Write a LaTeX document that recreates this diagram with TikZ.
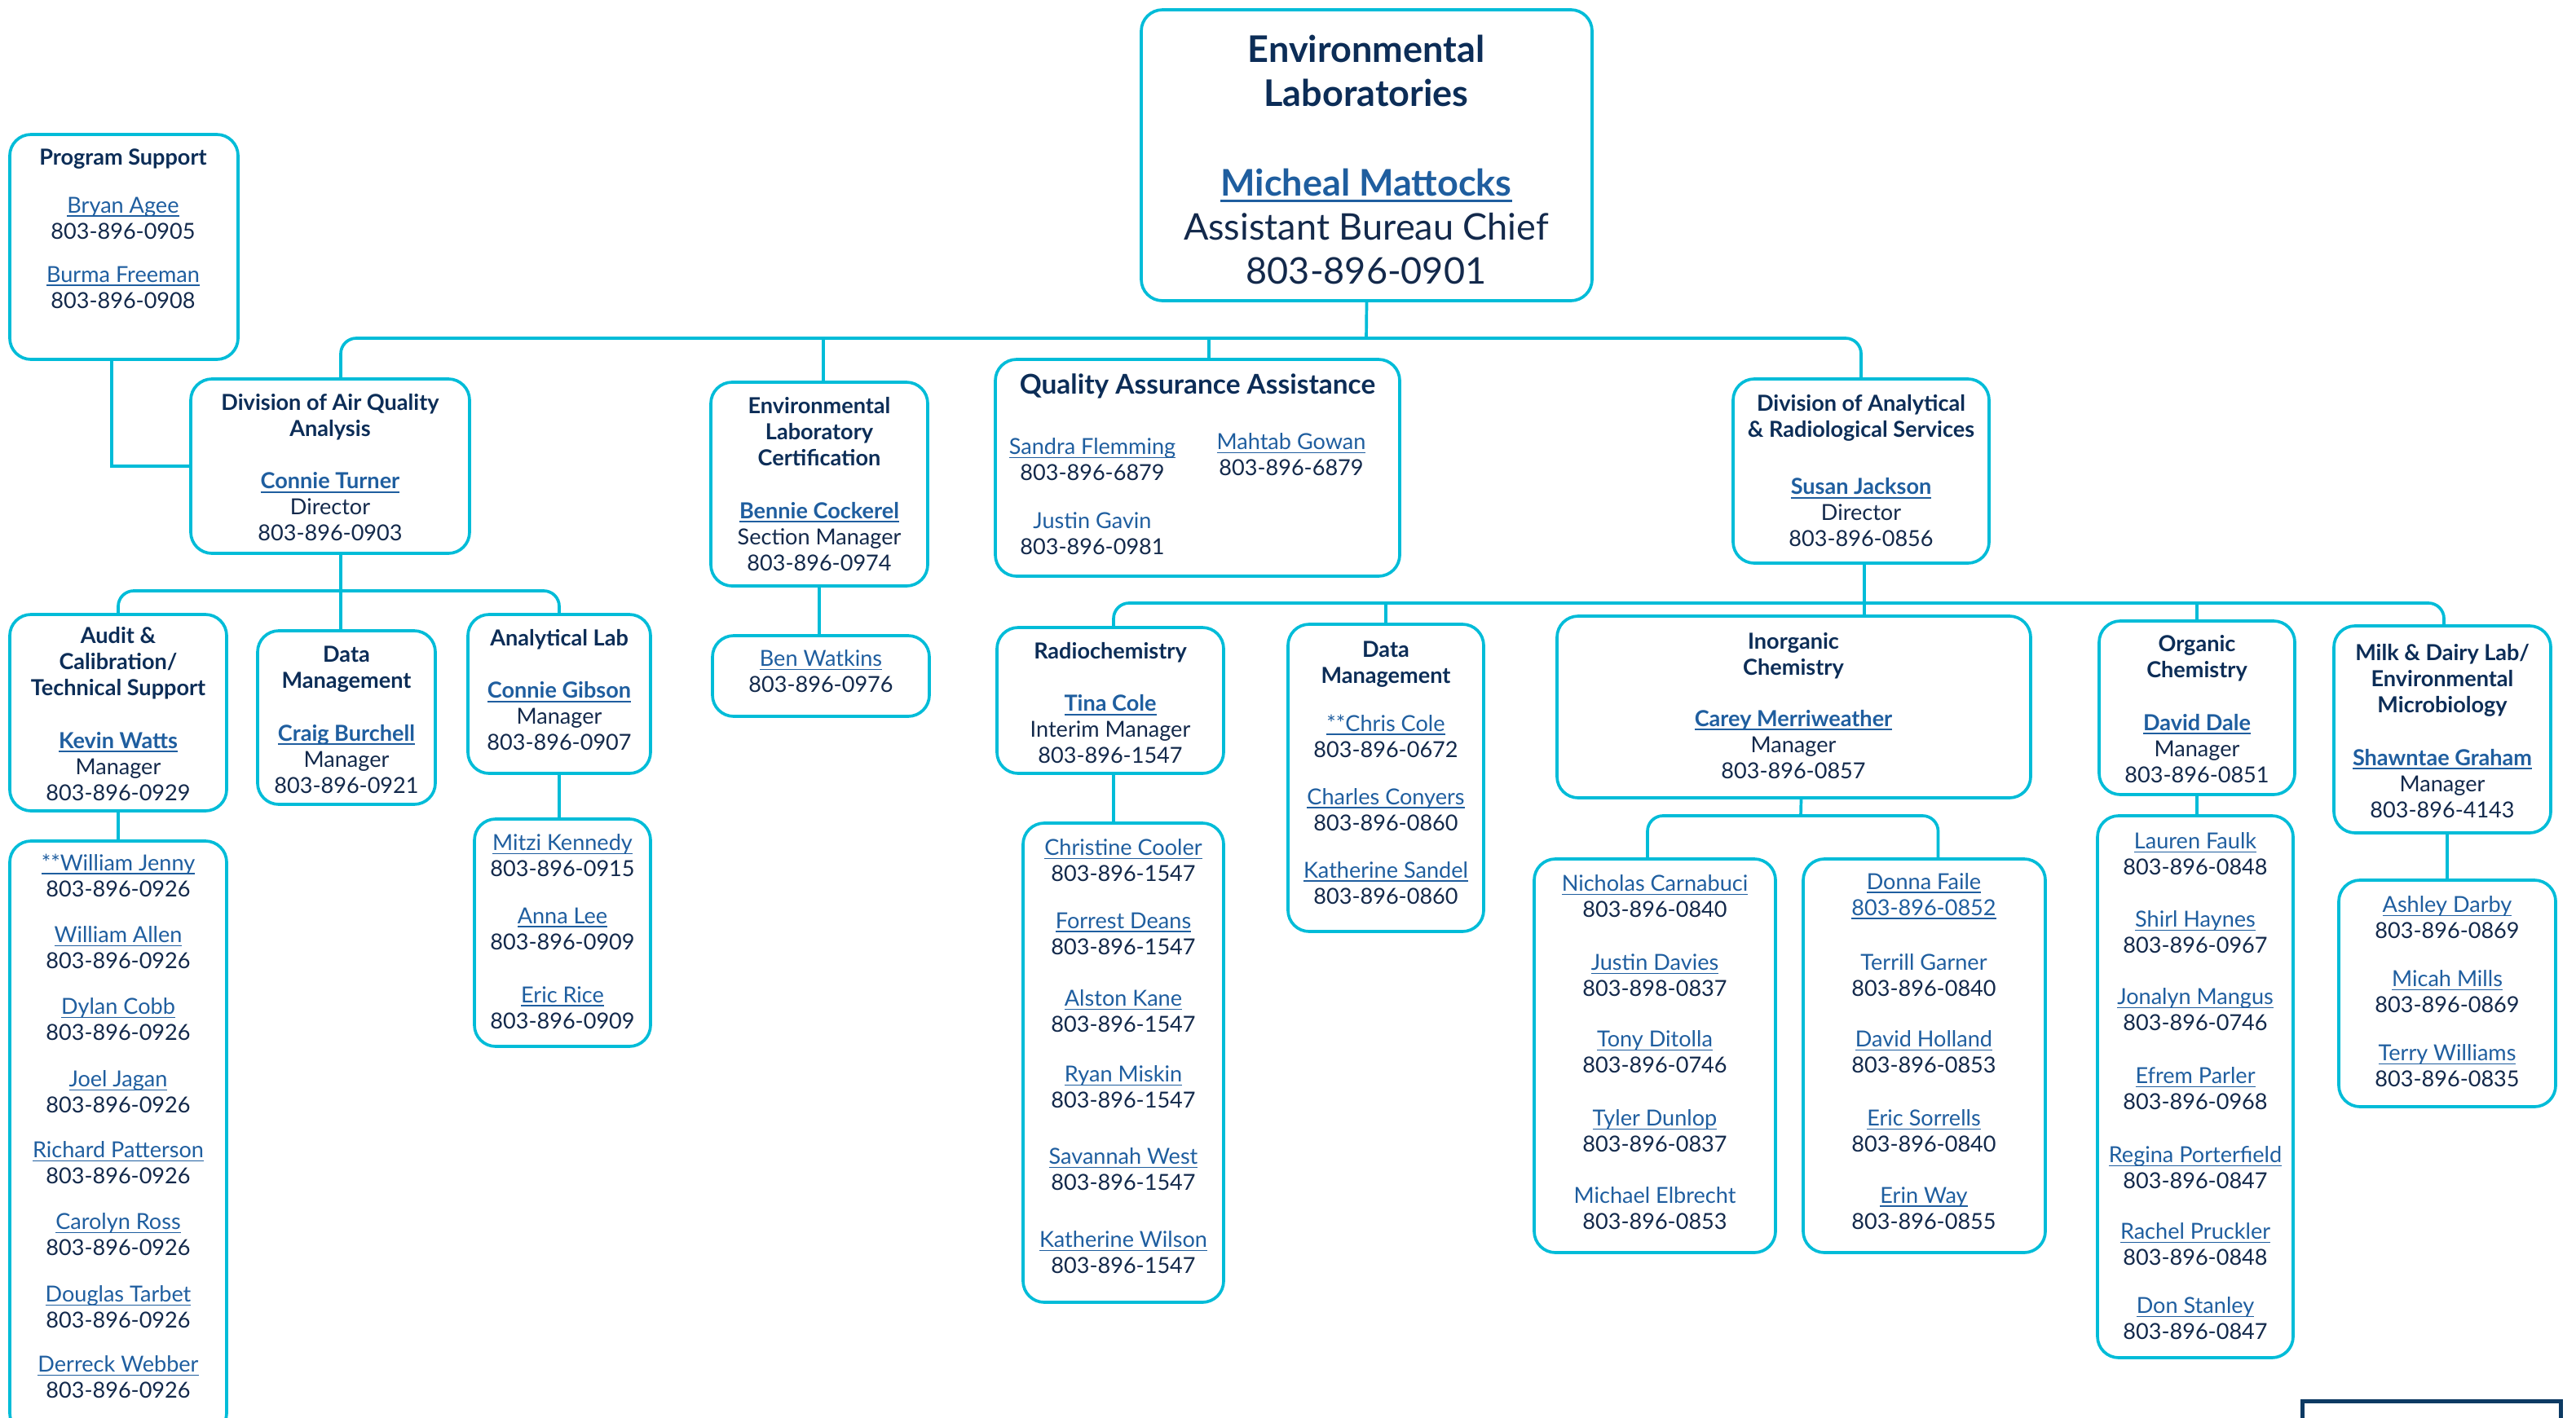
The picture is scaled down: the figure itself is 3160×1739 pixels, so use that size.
\documentclass[tikz,border=0pt]{standalone}
\usepackage{fontspec}
\setmainfont{Lato}
\usetikzlibrary{fit}
\definecolor{linecyan}{HTML}{00BCD8}
\definecolor{headnavy}{HTML}{0C2D57}
\definecolor{linkblue}{HTML}{1F5E9F}
\definecolor{telnavy}{HTML}{13294B}
\definecolor{framenavy}{HTML}{0D3A63}
\newcommand{\uname}[1]{\setbox0\hbox{#1}\rlap{\rule[-0.17em]{\wd0}{0.07em}}\box0}
\newcommand{\hd}[1]{{\bfseries\color{headnavy}#1}}
\newcommand{\nm}[1]{{\color{linkblue}\uname{#1}}}
\newcommand{\bnm}[1]{{\bfseries\color{linkblue}\uname{#1}}}
\newcommand{\pl}[1]{{\color{linkblue}#1}}
\begin{document}
\begin{tikzpicture}[x=0.01cm, y=-0.01cm,
  box/.style={draw=linecyan, line width=1.05pt, rounded corners=2.6mm, inner sep=0pt},
  link/.style={draw=linecyan, line width=1.05pt},
  bus/.style={rounded corners=1.9mm},
  txt/.style={align=center, inner sep=0pt, text=telnavy, font=\fontsize{7.7}{9.1}\selectfont},
  big/.style={align=center, inner sep=0pt, text=telnavy, font=\fontsize{12.8}{15.4}\selectfont}]
\useasboundingbox (0,0) rectangle (3160,1739);
\clip (0,0) rectangle (3160,1739);

% boxes
\node[box, fit={(1400,12) (1953,369)}] (top) {};
\node[box, fit={(12,165) (292,441)}] (ps) {};
\node[box, fit={(234,465) (576,679)}] (aq) {};
\node[box, fit={(872,469) (1138,719)}] (elc) {};
\node[box, fit={(874,780) (1140,879)}] (bw) {};
\node[box, fit={(1221,441) (1717,707)}] (qa) {};
\node[box, fit={(2126,465) (2440,691)}] (anr) {};
\node[box, fit={(12,754) (278,995)}] (audit) {};
\node[box, fit={(12,1032) (278,1760)}] (auditstaff) {};
\node[box, fit={(316,774) (534,987)}] (dm1) {};
\node[box, fit={(574,754) (798,949)}] (alab) {};
\node[box, fit={(582,1005) (798,1284)}] (alabstaff) {};
\node[box, fit={(1223,770) (1501,949)}] (radio) {};
\node[box, fit={(1255,1010) (1501,1598)}] (radiostaff) {};
\node[box, fit={(1580,766) (1820,1143)}] (dm2) {};
\node[box, fit={(1910,756) (2491,979)}] (inorg) {};
\node[box, fit={(1882,1054) (2178,1537)}] (inleft) {};
\node[box, fit={(2212,1054) (2509,1537)}] (inright) {};
\node[box, fit={(2575,762) (2815,975)}] (organic) {};
\node[box, fit={(2573,1001) (2813,1666)}] (orgstaff) {};
\node[box, fit={(2863,768) (3129,1022)}] (milk) {};
\node[box, fit={(2869,1080) (3135,1358)}] (milkstaff) {};
\draw[draw=framenavy, line width=1.42pt] (2824,1719) rectangle (3141,1800);

% connectors
\coordinate (topbus) at (1676,415);
\coordinate (aqbus) at (418,725);
\coordinate (anrbus) at (2287,740);
\coordinate (inbus) at (2209,1001);
\draw[link] (top.south) -- (topbus);
\draw[link, bus] ([xshift=1.3mm]aq.north) |- (topbus) -| (anr.north);
\draw[link] ([xshift=0.5mm]elc.north) |- (topbus);
\draw[link] ([xshift=1.4mm]qa.north) |- (topbus);
\draw[link] ([xshift=-1.5mm]ps.south) |- (aq.west);
\draw[link] ([xshift=1.3mm]aq.south) -- (aqbus) -- (aqbus |- dm1.north);
\draw[link, bus] (audit.north) |- (aqbus) -| (alab.north);
\draw[link] (audit.south) -- (auditstaff.north);
\draw[link] (alab.south) -- (alab.south |- alabstaff.north);
\draw[link] (elc.south) -- (elc.south |- bw.north);
\draw[link] ([xshift=0.4mm]anr.south) -- (anrbus) -- (anrbus |- inorg.north);
\draw[link, bus] ([xshift=0.4mm]radio.north) |- (anrbus) -| ([xshift=0.2mm]milk.north);
\draw[link] (dm2.north) |- (anrbus);
\draw[link] (organic.north) |- (anrbus);
\draw[link] ([xshift=0.4mm]radio.south) -- ([xshift=0.4mm]radio.south |- radiostaff.north);
\draw[link] (organic.south) -- (organic.south |- orgstaff.north);
\draw[link] (milkstaff.north) -- (milkstaff.north |- milk.south);
\draw[link] ([xshift=0.9mm]inorg.south) -- (inbus);
\draw[link, bus] ([xshift=-0.9mm]inleft.north) |- (inbus) -| ([xshift=1.7mm]inright.north);

% texts
\node[big] (top-hd) at (1676,87) {\hd{Environmental}\\\hd{Laboratories}};
\node[big] (top-who) at (1676,278) {\bnm{Micheal Mattocks}\\Assistant Bureau Chief\\803-896-0901};
\node[txt] (ps-txt) at (151,281) {\hd{Program Support}\\[7.6pt]\nm{Bryan Agee}\\803-896-0905\\[6pt]\nm{Burma Freeman}\\803-896-0908};
\node[txt] (aq-txt) at (405,574) {\hd{Division of Air Quality}\\\hd{Analysis}\\[9.1pt]\bnm{Connie Turner}\\Director\\803-896-0903};
\node[txt] (elc-txt) at (1005,594) {\hd{Environmental}\\\hd{Laboratory}\\\hd{Certification}\\[9.4pt]\bnm{Bennie Cockerel}\\Section Manager\\803-896-0974};
\node[txt] (bw-txt) at (1007,824) {\nm{Ben Watkins}\\803-896-0976};
\node[txt, font=\fontsize{9.5}{11}\selectfont] (qa-hd) at (1469,474) {\hd{Quality Assurance Assistance}};
\node[txt] (qa-a) at (1340,564) {\nm{Sandra Flemming}\\803-896-6879};
\node[txt] (qa-b) at (1584,558) {\nm{Mahtab Gowan}\\803-896-6879};
\node[txt] (qa-c) at (1340,655) {\pl{Justin Gavin}\\803-896-0981};
\node[txt] (anr-txt) at (2283,578) {\hd{Division of Analytical}\\\hd{\& Radiological Services}\\[10.8pt]\bnm{Susan Jackson}\\Director\\803-896-0856};
\node[txt] (audit-txt) at (145,876) {\hd{Audit \&}\\\hd{Calibration/}\\\hd{Technical Support}\\[9.4pt]\bnm{Kevin Watts}\\Manager\\803-896-0929};
\node[txt] (dm1-txt) at (425,883) {\hd{Data}\\\hd{Management}\\[9.4pt]\bnm{Craig Burchell}\\Manager\\803-896-0921};
\node[txt] (alab-txt) at (686,847) {\hd{Analytical Lab}\\[9.1pt]\bnm{Connie Gibson}\\Manager\\803-896-0907};
\node[txt] (radio-txt) at (1362,863) {\hd{Radiochemistry}\\[9.1pt]\bnm{Tina Cole}\\Interim Manager\\803-896-1547};
\node[txt] (dm2-txt) at (1700,948) {\hd{Data}\\\hd{Management}\\[7.6pt]\nm{**Chris Cole}\\803-896-0672\\[7.4pt]\nm{Charles Conyers}\\803-896-0860\\[7.4pt]\nm{Katherine Sandel}\\803-896-0860};
\node[txt] (inorg-txt) at (2200,866) {\hd{Inorganic}\\\hd{Chemistry}\\[8.8pt]\bnm{Carey Merriweather}\\Manager\\803-896-0857};
\node[txt] (organic-txt) at (2695,870) {\hd{Organic}\\\hd{Chemistry}\\[9.4pt]\bnm{David Dale}\\Manager\\803-896-0851};
\node[txt] (milk-txt) at (2996,897) {\hd{Milk \& Dairy Lab/}\\\hd{Environmental}\\\hd{Microbiology}\\[9.4pt]\bnm{Shawntae Graham}\\Manager\\803-896-4143};

% staff lists
\foreach \y/\who/\tel [count=\i] in {1058/**William Jenny/803-896-0926, 1147/William Allen/803-896-0926,
    1235/Dylan Cobb/803-896-0926, 1324/Joel Jagan/803-896-0926, 1411/Richard Patterson/803-896-0926,
    1499/Carolyn Ross/803-896-0926, 1588/Douglas Tarbet/803-896-0926, 1674/Derreck Webber/803-896-0926}
  \node[txt] (acs\i) at (145,\y+16) {\nm{\who}\\\tel};
\foreach \y/\who/\tel [count=\i] in {1034/Mitzi Kennedy/803-896-0915, 1124/Anna Lee/803-896-0909,
    1221/Eric Rice/803-896-0909}
  \node[txt] (als\i) at (690,\y+16) {\nm{\who}\\\tel};
\foreach \y/\who/\tel [count=\i] in {1040/Christine Cooler/803-896-1547, 1130/Forrest Deans/803-896-1547,
    1225/Alston Kane/803-896-1547, 1318/Ryan Miskin/803-896-1547, 1419/Savannah West/803-896-1547,
    1521/Katherine Wilson/803-896-1547}
  \node[txt] (rcs\i) at (1378,\y+16) {\nm{\who}\\\tel};
\foreach \y/\who/\tel [count=\i] in {1084/Nicholas Carnabuci/803-896-0840, 1181/Justin Davies/803-898-0837,
    1275/Tony Ditolla/803-896-0746, 1372/Tyler Dunlop/803-896-0837}
  \node[txt] (ils\i) at (2030,\y+16) {\nm{\who}\\\tel};
\node[txt] (ils5) at (2030,1483) {\pl{Michael Elbrecht}\\803-896-0853};
\node[txt] (irs1) at (2360,1100) {\nm{Donna Faile}\\\nm{803-896-0852}};
\node[txt] (irs2) at (2360,1197) {\pl{Terrill Garner}\\803-896-0840};
\foreach \y/\who/\tel [count=\i from 3] in {1275/David Holland/803-896-0853, 1372/Eric Sorrells/803-896-0840,
    1467/Erin Way/803-896-0855}
  \node[txt] (irs\i) at (2360,\y+16) {\nm{\who}\\\tel};
\foreach \y/\who/\tel [count=\i] in {1032/Lauren Faulk/803-896-0848, 1128/Shirl Haynes/803-896-0967,
    1223/Jonalyn Mangus/803-896-0746, 1320/Efrem Parler/803-896-0968, 1417/Regina Porterfield/803-896-0847,
    1511/Rachel Pruckler/803-896-0848, 1602/Don Stanley/803-896-0847}
  \node[txt] (ocs\i) at (2693,\y+16) {\nm{\who}\\\tel};
\foreach \y/\who/\tel [count=\i] in {1110/Ashley Darby/803-896-0869, 1201/Micah Mills/803-896-0869,
    1292/Terry Williams/803-896-0835}
  \node[txt] (mds\i) at (3002,\y+16) {\nm{\who}\\\tel};
\end{tikzpicture}
\end{document}
